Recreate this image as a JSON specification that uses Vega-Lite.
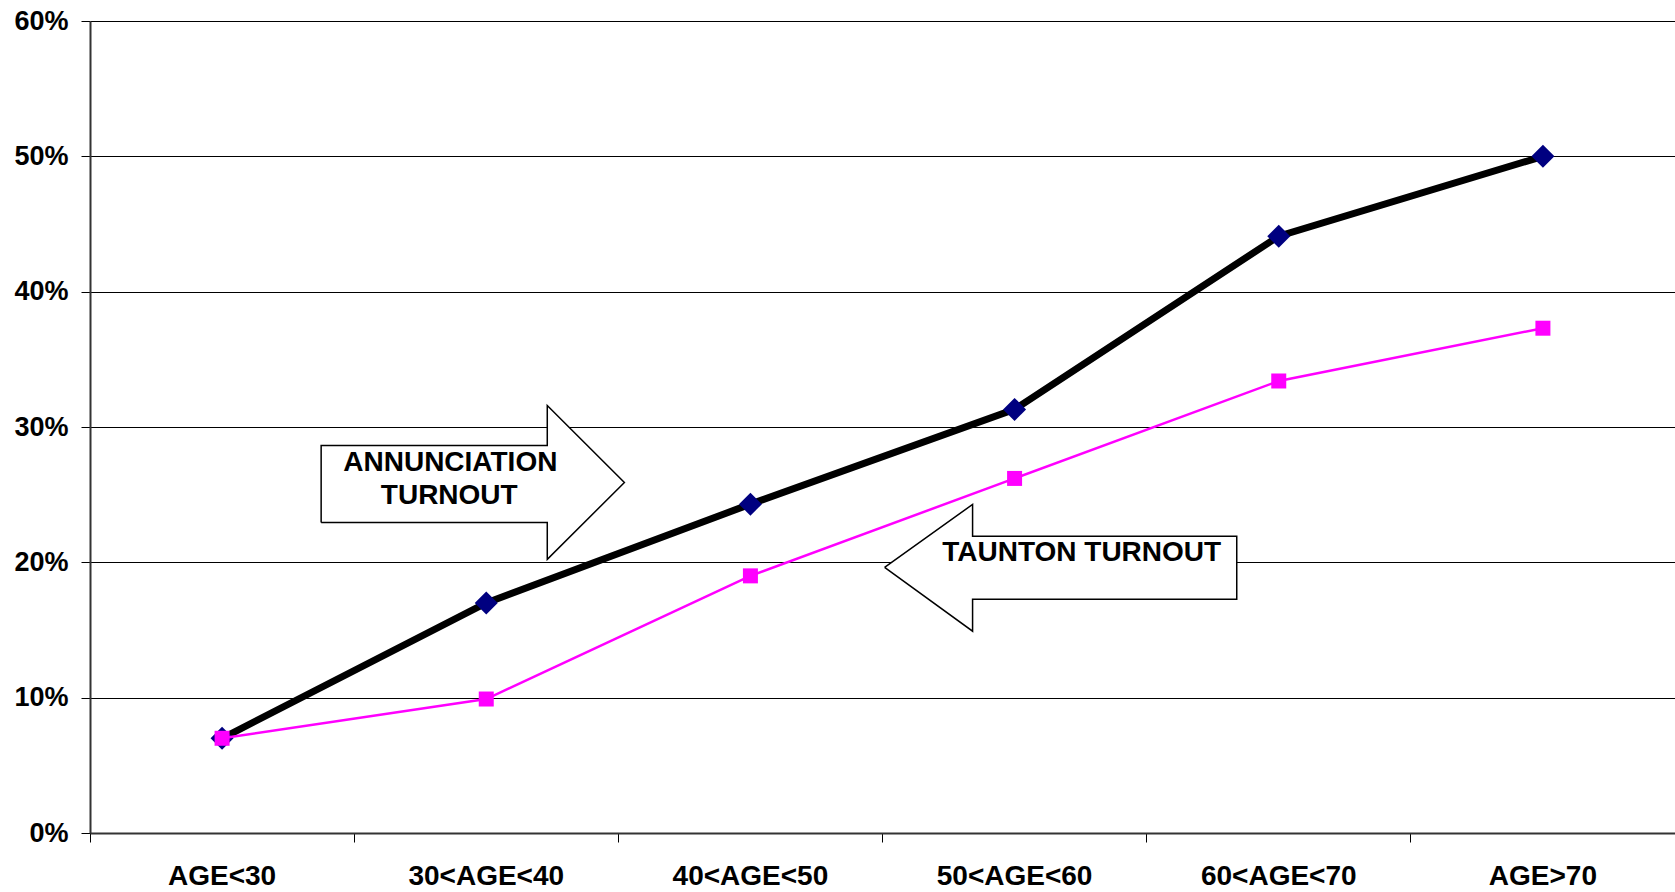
{
  "$schema": "https://vega.github.io/schema/vega-lite/v6.json",
  "width": 1585,
  "height": 812,
  "autosize": {"type": "none"},
  "padding": {"left": 90, "top": 21, "right": 0, "bottom": 59},
  "background": "white",
  "config": {"view": {"stroke": null}, "font": "Liberation Sans"},
  "datasets": {
    "turnout": [
      {"age": "AGE<30", "series": "Annunciation", "value": 0.070},
      {"age": "30<AGE<40", "series": "Annunciation", "value": 0.170},
      {"age": "40<AGE<50", "series": "Annunciation", "value": 0.243},
      {"age": "50<AGE<60", "series": "Annunciation", "value": 0.313},
      {"age": "60<AGE<70", "series": "Annunciation", "value": 0.441},
      {"age": "AGE>70", "series": "Annunciation", "value": 0.500},
      {"age": "AGE<30", "series": "Taunton", "value": 0.070},
      {"age": "30<AGE<40", "series": "Taunton", "value": 0.099},
      {"age": "40<AGE<50", "series": "Taunton", "value": 0.190},
      {"age": "50<AGE<60", "series": "Taunton", "value": 0.262},
      {"age": "60<AGE<70", "series": "Taunton", "value": 0.334},
      {"age": "AGE>70", "series": "Taunton", "value": 0.373}
    ],
    "arrows": [
      {"shape": "annunciation", "i": 0, "x": 0.875, "y": 0.2295},
      {"shape": "annunciation", "i": 1, "x": 1.731, "y": 0.2295},
      {"shape": "annunciation", "i": 2, "x": 1.731, "y": 0.2022},
      {"shape": "annunciation", "i": 3, "x": 2.023, "y": 0.259},
      {"shape": "annunciation", "i": 4, "x": 1.731, "y": 0.3159},
      {"shape": "annunciation", "i": 5, "x": 1.731, "y": 0.2863},
      {"shape": "annunciation", "i": 6, "x": 0.875, "y": 0.2863},
      {"shape": "annunciation", "i": 7, "x": 0.875, "y": 0.2295},
      {"shape": "taunton", "i": 0, "x": 3.008, "y": 0.1963},
      {"shape": "taunton", "i": 1, "x": 3.341, "y": 0.2428},
      {"shape": "taunton", "i": 2, "x": 3.341, "y": 0.2192},
      {"shape": "taunton", "i": 3, "x": 4.341, "y": 0.2192},
      {"shape": "taunton", "i": 4, "x": 4.341, "y": 0.1727},
      {"shape": "taunton", "i": 5, "x": 3.341, "y": 0.1727},
      {"shape": "taunton", "i": 6, "x": 3.341, "y": 0.1491},
      {"shape": "taunton", "i": 7, "x": 3.008, "y": 0.1963}
    ],
    "labels": [
      {"text": "ANNUNCIATION", "x": 1.364, "y": 0.2734},
      {"text": "TURNOUT", "x": 1.36, "y": 0.2487},
      {"text": "TAUNTON TURNOUT", "x": 3.754, "y": 0.2066}
    ]
  },
  "layer": [
    {
      "data": {"name": "turnout"},
      "encoding": {
        "x": {
          "field": "age",
          "type": "ordinal",
          "sort": ["AGE<30", "30<AGE<40", "40<AGE<50", "50<AGE<60", "60<AGE<70", "AGE>70"],
          "scale": {"type": "band", "paddingInner": 0, "paddingOuter": 0},
          "bandPosition": 0.5,
          "axis": {
            "title": null,
            "bandPosition": 0,
            "labelAngle": 0,
            "labelFontSize": 28,
            "labelFontWeight": "bold",
            "labelColor": "black",
            "labelPadding": 20,
            "tickSize": 9,
            "tickColor": "black",
            "domainColor": "#333333",
            "domainWidth": 2,
            "grid": false
          }
        },
        "y": {
          "field": "value",
          "type": "quantitative",
          "scale": {"domain": [0, 0.6], "nice": false},
          "axis": {
            "title": null,
            "format": ".0%",
            "values": [0, 0.1, 0.2, 0.3, 0.4, 0.5, 0.6],
            "labelFontSize": 27,
            "labelFontWeight": "bold",
            "labelColor": "black",
            "labelPadding": 13,
            "tickSize": 9,
            "tickColor": "black",
            "domainColor": "#333333",
            "domainWidth": 2,
            "grid": true,
            "gridColor": "black",
            "gridWidth": 1,
            "gridOpacity": 1
          }
        }
      },
      "layer": [
        {
          "transform": [{"filter": "datum.series === 'Annunciation'"}],
          "mark": {"type": "line", "color": "black", "strokeWidth": 7}
        },
        {
          "transform": [{"filter": "datum.series === 'Annunciation'"}],
          "mark": {"type": "point", "shape": "diamond", "size": 529, "filled": true, "fill": "#000080", "strokeWidth": 0, "opacity": 1}
        },
        {
          "transform": [{"filter": "datum.series === 'Taunton'"}],
          "mark": {"type": "line", "color": "#FF00FF", "strokeWidth": 2.5}
        },
        {
          "transform": [{"filter": "datum.series === 'Taunton'"}],
          "mark": {"type": "point", "shape": "square", "size": 225, "filled": true, "fill": "#FF00FF", "strokeWidth": 0, "opacity": 1}
        }
      ]
    },
    {
      "encoding": {
        "x": {"field": "x", "type": "quantitative", "scale": {"domain": [0, 6], "nice": false, "zero": false}, "axis": null},
        "y": {
          "field": "y",
          "type": "quantitative",
          "scale": {"domain": [0, 0.6], "nice": false},
          "axis": {
            "title": null,
            "format": ".0%",
            "values": [0, 0.1, 0.2, 0.3, 0.4, 0.5, 0.6],
            "labelFontSize": 27,
            "labelFontWeight": "bold",
            "labelColor": "black",
            "labelPadding": 13,
            "tickSize": 9,
            "tickColor": "black",
            "domainColor": "#333333",
            "domainWidth": 2,
            "grid": true,
            "gridColor": "black",
            "gridWidth": 1,
            "gridOpacity": 1
          }
        }
      },
      "layer": [
        {
          "data": {"name": "arrows"},
          "mark": {"type": "line", "fill": "white", "stroke": "black", "strokeWidth": 1.5, "strokeJoin": "miter"},
          "encoding": {
            "detail": {"field": "shape"},
            "order": {"field": "i", "type": "quantitative"}
          }
        },
        {
          "data": {"name": "labels"},
          "mark": {"type": "text", "font": "Liberation Sans", "fontSize": 28, "fontWeight": "bold", "color": "black", "align": "center", "baseline": "middle"},
          "encoding": {"text": {"field": "text"}}
        }
      ]
    }
  ],
  "resolve": {"scale": {"x": "independent"}}
}
